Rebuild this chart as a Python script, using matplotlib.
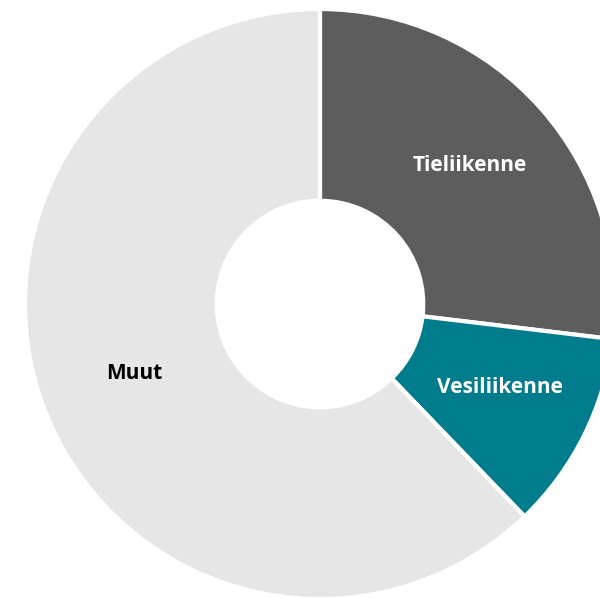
import matplotlib
matplotlib.use("Agg")
import matplotlib.pyplot as plt
import matplotlib.transforms as mtransforms

categories = ["Tieliikenne", "Vesiliikenne", "Muut"]
values = [26.9, 10.9, 62.2]
colors = ["#5d5d5d", "#007c8c", "#e6e6e6"]
label_colors = ["white", "white", "black"]

fig = plt.figure(figsize=(6.0, 5.98), dpi=100)
W, H = 600, 598
cx, cy, R = 320, 304, 295
ax = fig.add_axes([(cx - R) / W, (H - cy - R) / H, 2 * R / W, 2 * R / H])
ax.set_xlim(-1, 1)
ax.set_ylim(-1, 1)
ax.axis("off")

wedges, texts = ax.pie(
    values,
    labels=categories,
    colors=colors,
    startangle=90,
    counterclock=False,
    radius=1.0,
    labeldistance=0.68,
    wedgeprops=dict(width=0.65, edgecolor="white", linewidth=3, joinstyle="round"),
    textprops=dict(fontsize=15, fontweight="bold", family=["Open Sans", "DejaVu Sans"]),
)
shift = mtransforms.offset_copy(ax.transData, fig=fig, x=0, y=4, units="points")
for t, c in zip(texts, label_colors):
    t.set_color(c)
    t.set_ha("center")
    t.set_va("center")
    t.set_transform(shift)
ax.set_xlim(-1, 1)
ax.set_ylim(-1, 1)

fig.savefig("out.png", dpi=100)
